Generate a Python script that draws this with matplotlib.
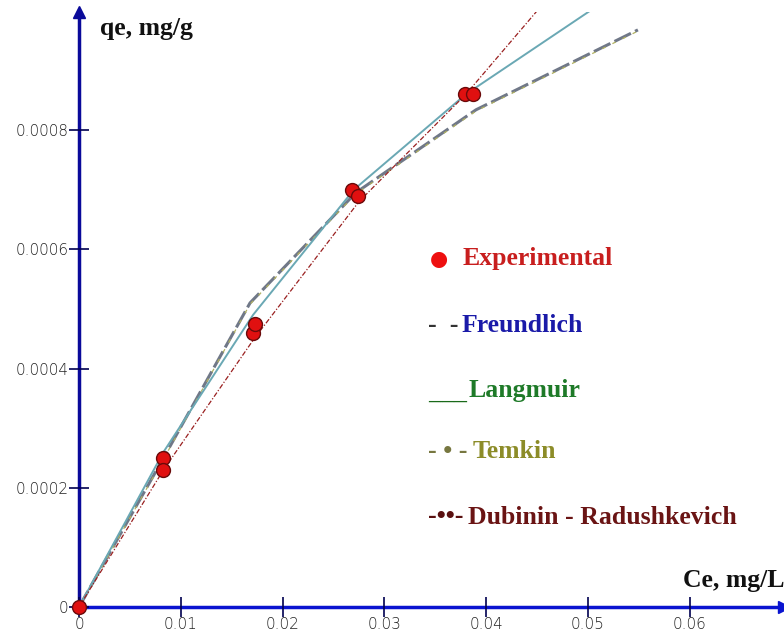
import matplotlib.pyplot as plt

# experimental points
ce_exp = [0, 0.0083, 0.0083, 0.0171, 0.0173, 0.0268, 0.0274, 0.0379, 0.0387]
qe_exp = [0, 0.00025, 0.00023, 0.00046, 0.000475, 0.0007, 0.00069, 0.00086, 0.00086]

# model curves
ce_lang = [0, 0.0083, 0.0171, 0.027, 0.038, 0.0502]
qe_lang = [0, 0.00026, 0.00049, 0.0007, 0.00086, 0.001]

ce_freu = [0, 0.0083, 0.0168, 0.0272, 0.039, 0.0549]
qe_freu = [0, 0.00025, 0.00051, 0.000695, 0.000834, 0.000968]

ce_temk = [0, 0.0083, 0.0168, 0.0272, 0.039, 0.0549]
qe_temk = [0, 0.000248, 0.000508, 0.000693, 0.000832, 0.000966]

ce_dr = [0, 0.0083, 0.0172, 0.0275, 0.038, 0.045]
qe_dr = [0, 0.00023, 0.00045, 0.00068, 0.00086, 0.001]

xticks = [0, 0.01, 0.02, 0.03, 0.04, 0.05, 0.06]
xlabels = ["0", "0.01", "0.02", "0.03", "0.04", "0.05", "0.06"]
yticks = [0, 0.0002, 0.0004, 0.0006, 0.0008]
ylabels = ["0", "0.0002", "0.0004", "0.0006", "0.0008"]

fig = plt.figure(figsize=(7.84, 6.35), dpi=100)
ax = fig.add_axes([79 / 784, 28 / 635, 705 / 784, 595 / 635])
ax.set_xlim(0, 0.06925)
ax.set_ylim(0, 0.000998)

for s in ["top", "right"]:
    ax.spines[s].set_visible(False)
ax.spines["left"].set_color("#0a0a9a")
ax.spines["left"].set_linewidth(2.5)
ax.spines["bottom"].set_color("#0a14d0")
ax.spines["bottom"].set_linewidth(2.5)
ax.spines["left"].set_zorder(1)
ax.spines["bottom"].set_zorder(1)

# arrow heads
ax.plot(1, 0, marker=">", color="#0a14d0", markersize=9, transform=ax.transAxes, clip_on=False)
ax.plot(0, 1, marker="^", color="#0a0a9a", markersize=9, transform=ax.transAxes, clip_on=False)

ax.set_xticks(xticks)
ax.set_xticklabels(xlabels)
ax.set_yticks(yticks)
ax.set_yticklabels(ylabels)
ax.tick_params(direction="inout", length=15, width=1.2, color="#000050",
               labelsize=11, pad=0)
for lab in ax.get_xticklabels() + ax.get_yticklabels():
    lab.set_family("DejaVu Sans")
    lab.set_fontweight("light")
    lab.set_color("#222222")

ax.plot(ce_freu, qe_freu, color="#707888", lw=2.2, linestyle=(0, (6, 1.5)), zorder=2)
ax.plot(ce_temk, qe_temk, color="#b0b060", lw=0.9, linestyle=(0, (3, 6)), zorder=3)
ax.plot(ce_lang, qe_lang, color="#6aa8b4", lw=1.4, zorder=3)
ax.plot(ce_dr, qe_dr, color="#9a2020", lw=0.9, linestyle=(0, (4, 1.5, 1, 1.5)), zorder=3)
ax.plot(ce_exp, qe_exp, "o", color="#e01010", markeredgecolor="#6a0a0a",
        markersize=10, markeredgewidth=1, zorder=4, clip_on=False)

serif = ["Liberation Serif", "DejaVu Serif"]
fs = 18.5
fig.text(100 / 784, 1 - 28 / 635, "qe, mg/g", fontsize=fs, fontweight="bold",
         family=serif, va="center", ha="left", color="#111111")
fig.text(683 / 784, 1 - 581 / 635, "Ce, mg/L", fontsize=fs, fontweight="bold",
         family=serif, va="center", ha="left", color="#111111")

# legend as text
fig.text(439 / 784, 1 - 259 / 635, "●", fontsize=15, color="#ee1010",
         family="DejaVu Sans", va="center", ha="center")
fig.text(463 / 784, 1 - 259 / 635, "Experimental", fontsize=fs, fontweight="bold",
         family=serif, color="#c81e1e", va="center")
fig.text(428 / 784, 1 - 326 / 635, "-  -", fontsize=fs, fontweight="bold",
         family=serif, color="#333333", va="center")
fig.text(462 / 784, 1 - 326 / 635, "Freundlich", fontsize=fs, fontweight="bold",
         family=serif, color="#1a1aa8", va="center")
fig.text(428 / 784, 1 - 392 / 635, "___", fontsize=fs, fontweight="bold",
         family=serif, color="#1a6a1a", va="center")
fig.text(468 / 784, 1 - 390 / 635, "Langmuir", fontsize=fs, fontweight="bold",
         family=serif, color="#1e7a28", va="center")
fig.text(428 / 784, 1 - 452 / 635, "- • -", fontsize=fs, fontweight="bold",
         family=serif, color="#777740", va="center")
fig.text(473 / 784, 1 - 452 / 635, "Temkin", fontsize=fs, fontweight="bold",
         family=serif, color="#8c8c28", va="center")
fig.text(428 / 784, 1 - 517 / 635, "-••-", fontsize=fs, fontweight="bold",
         family=serif, color="#5a1010", va="center")
fig.text(468 / 784, 1 - 517 / 635, "Dubinin - Radushkevich", fontsize=fs, fontweight="bold",
         family=serif, color="#6a1414", va="center")

fig.savefig("out.png", dpi=100)
